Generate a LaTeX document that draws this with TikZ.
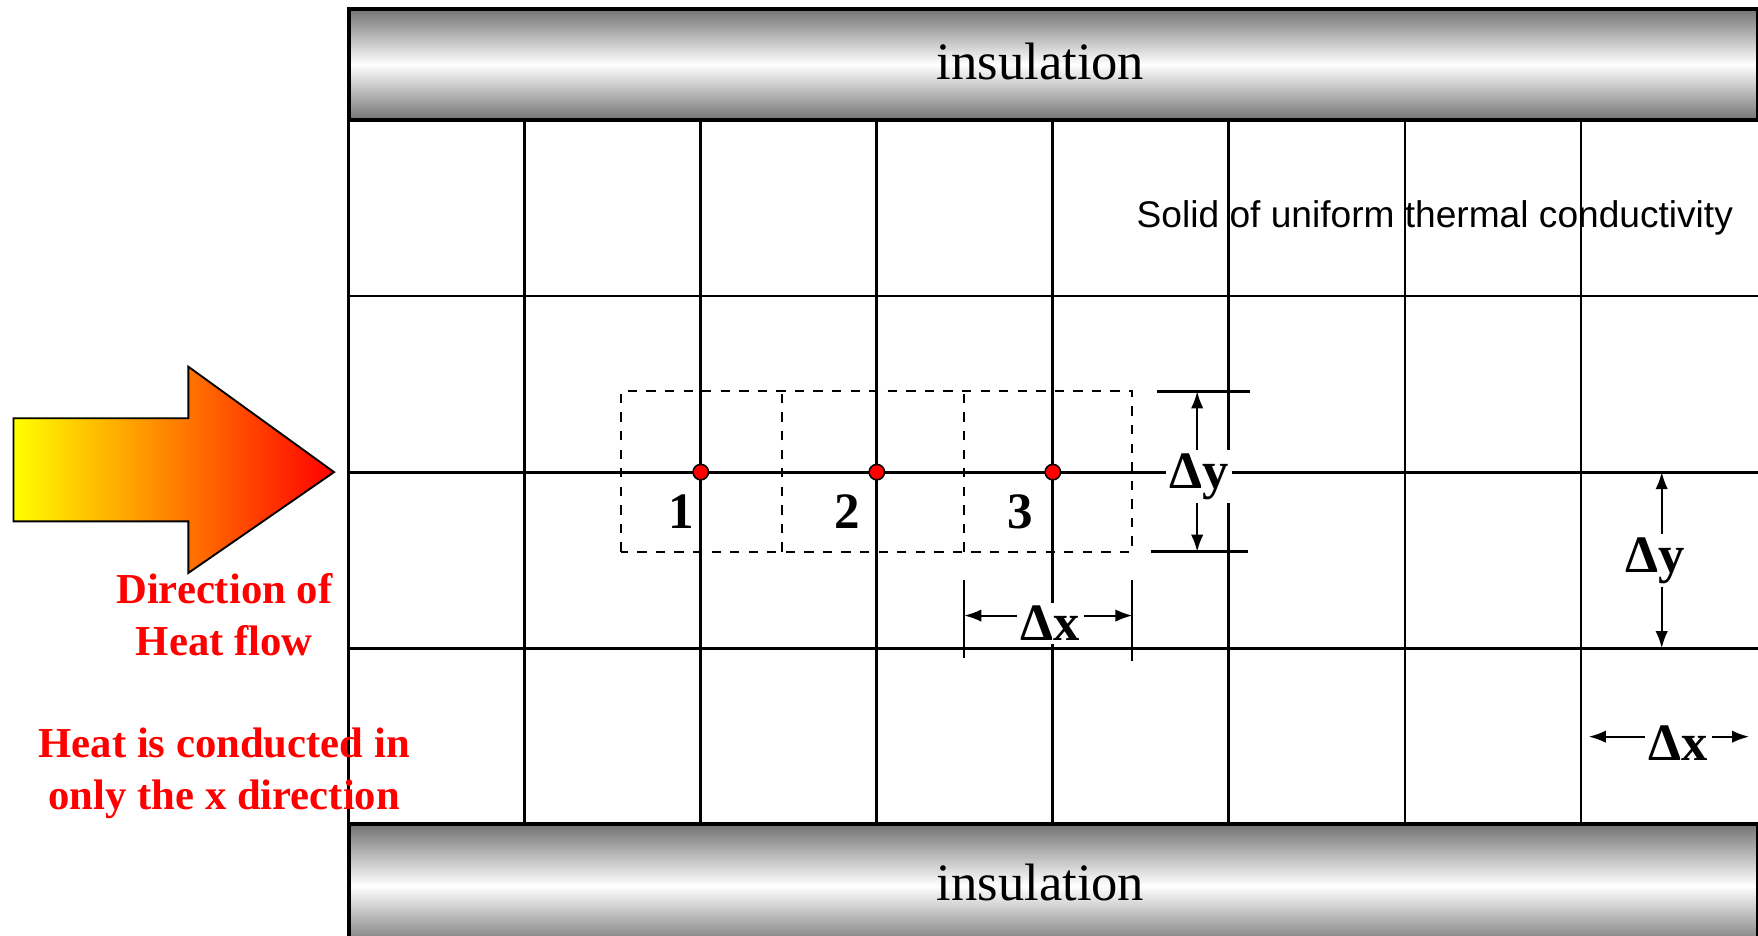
\documentclass[tikz,border=0pt]{standalone}
\usepackage{fontspec}
\setmainfont{Liberation Serif}
\newfontfamily\arialfont{Liberation Sans}
\usetikzlibrary{arrows.meta}

\begin{document}
\begin{tikzpicture}[x=2cm, y=2cm, >={Latex[length=5.5pt,width=4pt]},
        gridline/.style={line width=0.9pt},
        cellbox/.style={dashed, line width=0.6pt},
        dimline/.style={->, line width=0.6pt},
        insulbar/.style={draw, line width=1.2pt, top color=black!55, bottom color=black!55, middle color=white},
        insullabel/.style={font=\fontsize{17}{20}\selectfont},
        nodedot/.style={circle, draw, line width=0.5pt, fill=red, inner sep=0pt, minimum size=5pt},
        numlabel/.style={font=\fontsize{16.5}{20}\selectfont\bfseries},
        dimlabel/.style={fill=white, inner sep=1pt, font=\fontsize{17}{20}\selectfont\bfseries},
        redlabel/.style={text=red, align=center, font=\fontsize{13.8}{16.6}\selectfont\bfseries}]
        \useasboundingbox (-1.981,-0.631) rectangle (8.006,4.682);

        % Insulation
        \path[insulbar] (0,4) rectangle (8.006,4.631);
        \path[insulbar] (0,-0.7) rectangle (8.006,0);
        \node[insullabel] (topins) at (3.93,4.33) {insulation};
        \node[insullabel] (botins) at (3.93,-0.33) {insulation};

        % Grid
        \foreach \i in {1,...,7}
            \draw[gridline] (\i,0) -- (\i,4);
        \foreach \j in {1,2,3}
            \draw[gridline] (0,\j) -- (8.006,\j);
        \draw[gridline] (0,0) -- (0,4);

        \node[font=\arialfont\fontsize{12}{14}\selectfont] (solid) at (6.17,3.446) {Solid of uniform thermal conductivity};

        % Control volumes
        \draw[cellbox] (1.548,1.548) rectangle (4.452,2.459);
        \draw[cellbox] (2.459,1.548) -- (2.459,2.459);
        \draw[cellbox] (3.497,1.548) -- (3.497,2.459);

        % Nodes
        \node[nodedot] (n1) at (2,2) {};
        \node[nodedot] (n2) at (3,2) {};
        \node[nodedot] (n3) at (4,2) {};
        \node[numlabel] (l1) at (1.89,1.777) {1};
        \node[numlabel] (l2) at (2.834,1.777) {2};
        \node[numlabel] (l3) at (3.815,1.777) {3};

        % Delta y (cell)
        \draw[line width=0.8pt] (4.59,2.459) -- (5.12,2.459);
        \draw[line width=0.8pt] (4.56,1.548) -- (5.11,1.548);
        \coordinate (dytop) at (4.82,2.459);
        \coordinate (dybot) at (4.82,1.548);
        \node[dimlabel] (dy) at (4.83,1.975) {Δy};
        \draw[dimline] (dy.north -| dytop) -- (dytop);
        \draw[dimline] (dy.south -| dybot) -- (dybot);

        % Delta x (cell)
        \draw[line width=0.6pt] (3.497,0.943) -- (3.497,1.389);
        \draw[line width=0.6pt] (4.452,0.925) -- (4.452,1.389);
        \coordinate (dxleft) at (3.497,1.185);
        \coordinate (dxright) at (4.452,1.185);
        \node[dimlabel] (dx) at (3.987,1.14) {Δx};
        \draw[dimline] (dx.west |- dxleft) -- (dxleft);
        \draw[dimline] (dx.east |- dxright) -- (dxright);

        % Delta y (grid)
        \coordinate (gytop) at (7.459,2);
        \coordinate (gybot) at (7.459,1);
        \node[dimlabel] (gy) at (7.42,1.497) {Δy};
        \draw[dimline] (gy.north -| gytop) -- (gytop);
        \draw[dimline] (gy.south -| gybot) -- (gybot);

        % Delta x (grid)
        \coordinate (gxleft) at (7.045,0.497);
        \coordinate (gxright) at (7.955,0.497);
        \node[dimlabel] (gx) at (7.554,0.459) {Δx};
        \draw[dimline] (gx.west |- gxleft) -- (gxleft);
        \draw[dimline] (gx.east |- gxright) -- (gxright);

        % Heat flow arrow
        \shadedraw[left color=yellow, middle color=orange, right color=red, line width=0.6pt]
            (-1.904,1.72) -- (-1.904,2.306) -- (-0.911,2.306) -- (-0.911,2.599)
            -- (-0.083,2.0) -- (-0.911,1.427) -- (-0.911,1.72) -- cycle;
        \node[redlabel] (direction) at (-0.707,1.19) {Direction of\\Heat flow};
        \node[redlabel] (conducted) at (-0.707,0.29) {Heat is conducted in\\only the x direction};
    \end{tikzpicture}
\end{document}
